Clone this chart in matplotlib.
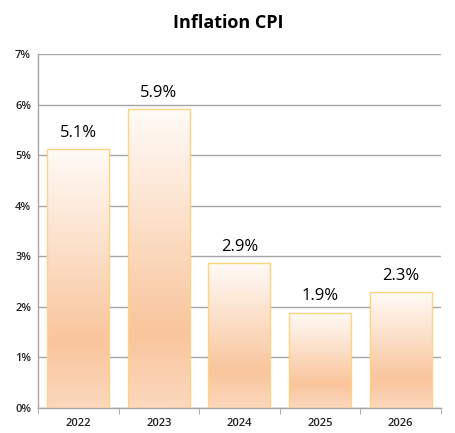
import matplotlib
matplotlib.use("Agg")
import matplotlib.pyplot as plt
import numpy as np
from matplotlib.colors import LinearSegmentedColormap
from matplotlib.ticker import FuncFormatter

years = ["2022", "2023", "2024", "2025", "2026"]
inflation = [5.12, 5.91, 2.86, 1.88, 2.29]
yticks = [0, 1, 2, 3, 4, 5, 6, 7]

plt.rcParams['font.family'] = ['Open Sans', 'DejaVu Sans']

fig = plt.figure(figsize=(4.56, 4.33), dpi=100)
ax = fig.add_axes([0.0833, 0.0577, 0.8837, 0.8173])

cmap = LinearSegmentedColormap.from_list(
    "peach", [(0.0, "#FFFBF7"), (0.75, "#F9C59C"), (1.0, "#FCD8BE")])
grad = np.linspace(0, 1, 256).reshape(-1, 1)

x = np.arange(len(years))
width = 0.77
bars = ax.bar(x, inflation, width=width, color="none", edgecolor="#FFD27F",
              linewidth=1.0, zorder=3)
for b, v in zip(bars, inflation):
    x0 = b.get_x()
    im = ax.imshow(grad, cmap=cmap, aspect="auto",
                   extent=[x0, x0 + b.get_width(), 0, v],
                   origin="upper", zorder=2)
    im.set_clip_path(b)
    ax.text(b.get_x() + b.get_width() / 2, v + 0.17, f"{v:.1f}%",
            ha="center", va="bottom", fontsize=12, color="#000000", zorder=4)

ax.set_xlim(-0.5, len(years) - 0.5)
ax.set_ylim(0, 7)
ax.set_yticks(yticks)
ax.yaxis.set_major_formatter(FuncFormatter(lambda v, p: f"{int(v)}%"))
ax.set_xticks(x)
ax.set_xticklabels(years)
ax.set_xticks(np.arange(-0.5, len(years)), minor=True)
ax.tick_params(axis="x", which="major", length=0, pad=7, labelsize=8,
               labelcolor="#222222")
ax.tick_params(axis="x", which="minor", length=4, direction="out",
               color="#A0A0A0")
ax.tick_params(axis="y", length=0, pad=5, labelsize=8, labelcolor="#222222")
for lab in ax.get_xticklabels() + ax.get_yticklabels():
    lab.set_fontweight("semibold")

ax.grid(axis="y", color="#A6A6A6", linewidth=1.0, zorder=0)
ax.set_axisbelow(True)
for s in ["top", "right"]:
    ax.spines[s].set_visible(False)
for s in ["left", "bottom"]:
    ax.spines[s].set_color("#A6A6A6")
    ax.spines[s].set_linewidth(1.0)

fig.suptitle("Inflation CPI", x=0.5, y=0.968, fontsize=13, fontweight="bold")

fig.savefig("out.png", dpi=100)
